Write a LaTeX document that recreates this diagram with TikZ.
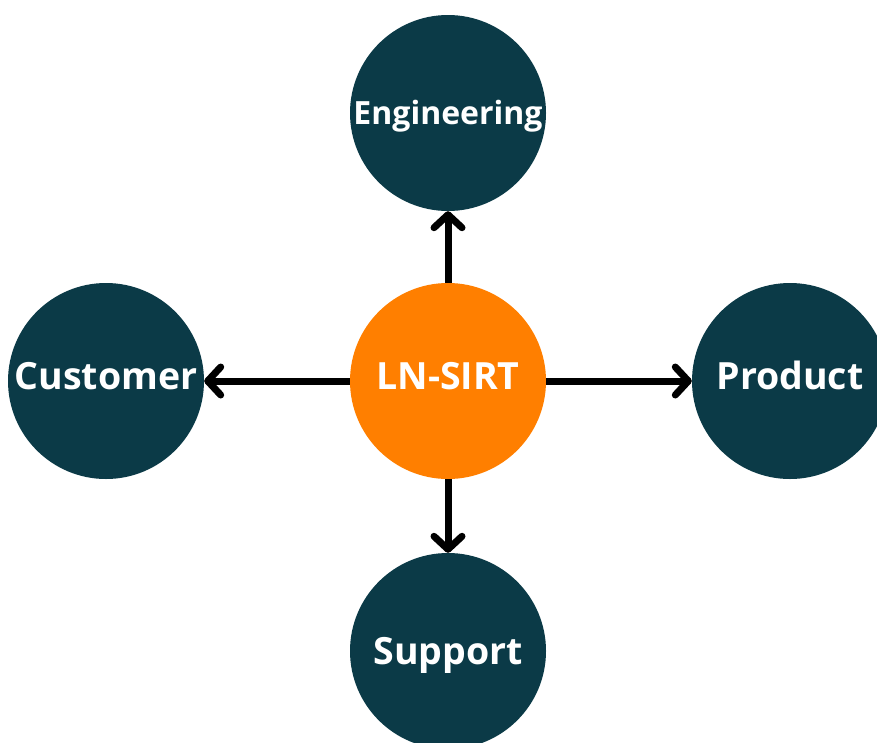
\documentclass[tikz,border=0pt]{standalone}
\usepackage{fontspec}
\setmainfont{Open Sans}
\usetikzlibrary{arrows.meta}
\definecolor{teamteal}{HTML}{0B3A47}
\definecolor{huborange}{HTML}{FF7F00}
\begin{document}
\begin{tikzpicture}[x=1pt,y=-1pt,
  team/.style={circle, fill=teamteal, minimum size=196pt, inner sep=0pt,
    text=white, font=\fontsize{37.5}{37.5}\selectfont\bfseries,
    text height=26.8pt, text depth=0pt},
  smalltext/.style={font=\fontsize{32}{32}\selectfont\bfseries, text height=22.8pt},
  raised/.style={text depth=9pt},
  hub/.style={team, fill=huborange},
  link/.style={line width=7pt,
    -{Straight Barb[length=13pt,width=28pt,line cap=round,line join=round]}}]
\useasboundingbox (0,0) rectangle (877,742);

% hub and the four teams
\node[hub,raised]  (hub)  at (448,381) {LN-SIRT};
\node[team,smalltext] (eng) at (448,113) {Engineering};
\node[team,raised] (cust) at (106,381) {Customer};
\node[team,raised] (prod) at (790,381) {Product};
\node[team] (supp) at (448,651) {Support};

% connectors from the hub outwards
\draw[link] (hub) -- (eng);
\draw[link] (hub) -- (cust);
\draw[link] (hub) -- (prod);
\draw[link] (hub) -- (supp);
\end{tikzpicture}
\end{document}
